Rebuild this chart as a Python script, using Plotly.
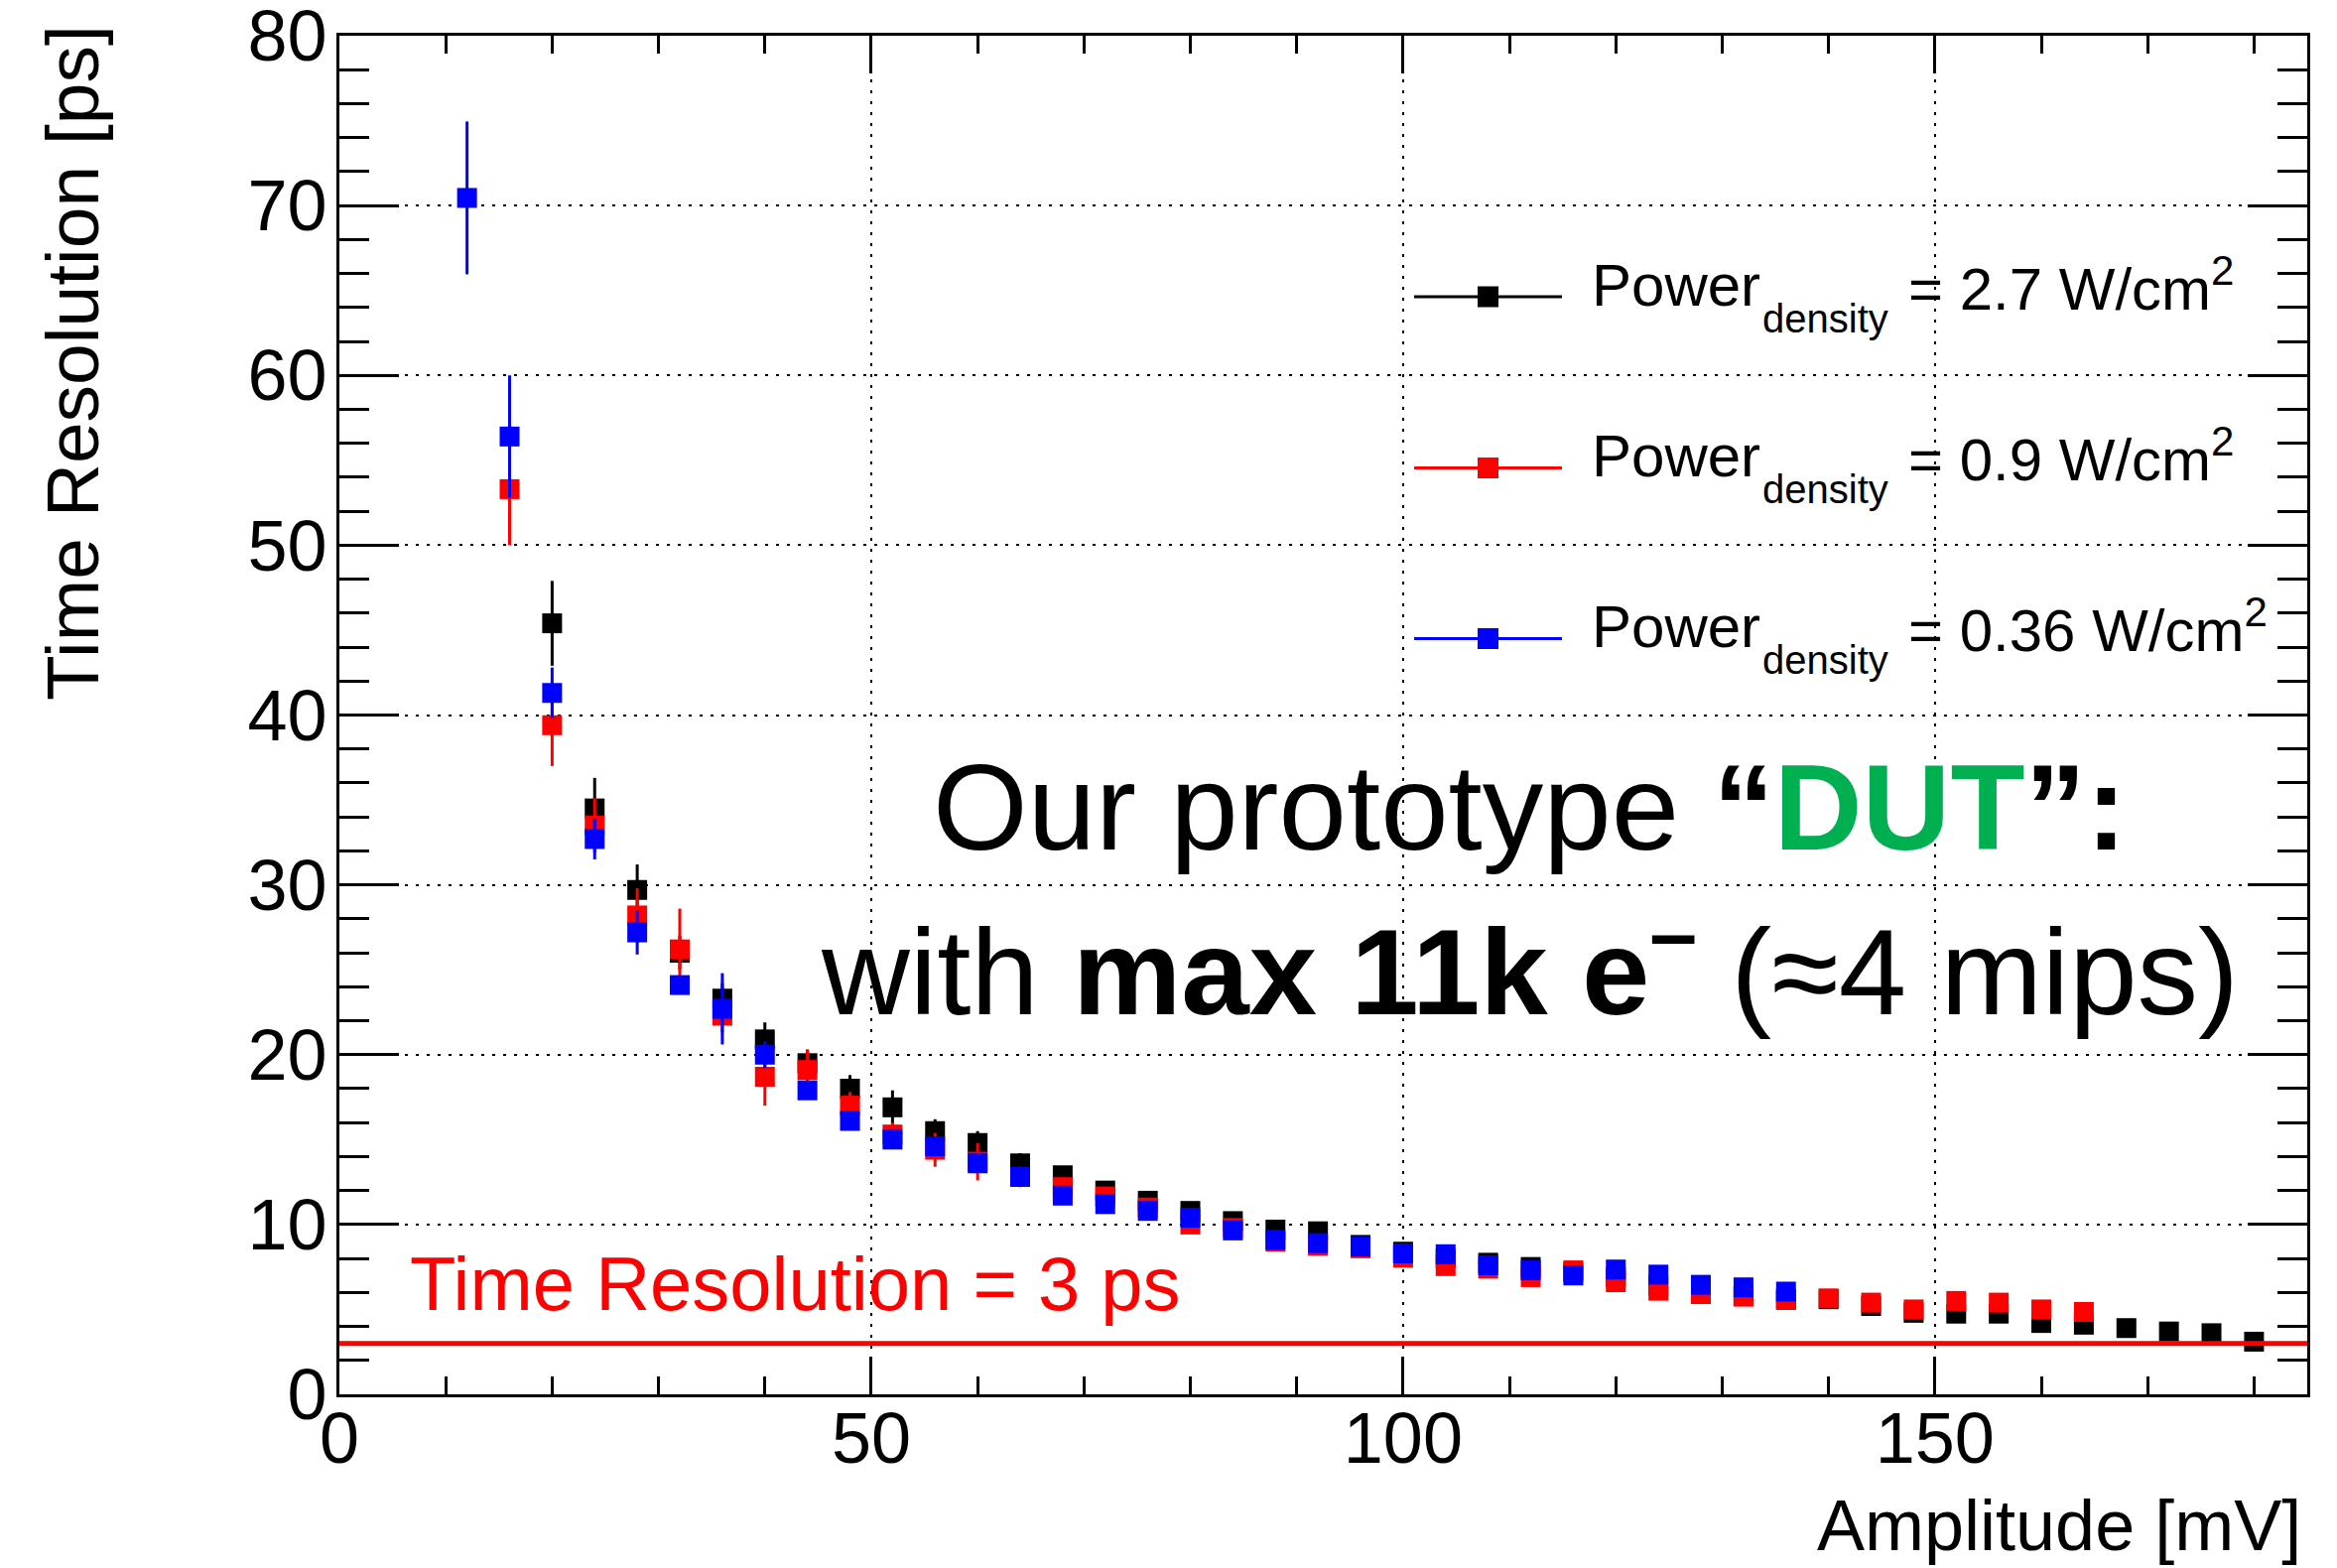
import plotly.graph_objects as go

# ---------------- data ----------------
amp_black = [20, 24, 28, 32, 36, 40, 44, 48, 52, 56, 60, 64, 68, 72, 76, 80, 84, 88, 92, 96,
             100, 104, 108, 112, 116, 120, 124, 128, 132, 136, 140, 144, 148, 152, 156, 160,
             164, 168, 172, 176, 180]
res_black = [45.4, 34.5, 29.7, 26.0, 23.3, 20.9, 19.5, 18.0, 16.9, 15.5, 14.8, 13.6, 12.9, 12.0,
             11.4, 10.8, 10.2, 9.7, 9.6, 8.8, 8.4, 8.0, 7.75, 7.5, 7.2, 6.9, 6.4, 6.0, 5.8, 5.6,
             5.6, 5.2, 4.8, 4.75, 4.75, 4.2, 4.1, 3.9, 3.7, 3.6, 3.1]
err_black = [2.5, 1.8, 1.5, 1.0, 0.9, 1.0, 0.8, 0.8, 1.0, 0.7, 0.7, 0.6, 0.5, 0.5, 0.4, 0.4,
             0.4, 0.4, 0.4, 0.3, 0.3, 0.3, 0.3, 0.3, 0.3, 0.3, 0.3, 0.3, 0.3, 0.3, 0.3, 0.3,
             0.3, 0.3, 0.3, 0.3, 0.3, 0.3, 0.3, 0.3, 0.3]

amp_red = [16, 20, 24, 28, 32, 36, 40, 44, 48, 52, 56, 60, 64, 68, 72, 76, 80, 84, 88, 92, 96,
           100, 104, 108, 112, 116, 120, 124, 128, 132, 136, 140, 144, 148, 152, 156, 160, 164]
res_red = [53.3, 39.4, 33.5, 28.2, 26.2, 22.3, 18.7, 19.1, 17.0, 15.3, 14.4, 13.7, 12.8, 12.2,
           11.65, 11.0, 10.0, 9.8, 9.0, 8.75, 8.6, 8.05, 7.55, 7.4, 6.9, 7.3, 6.6, 6.1, 5.9,
           5.75, 5.55, 5.65, 5.4, 5.0, 5.5, 5.4, 5.0, 4.85]
err_red = [3.3, 2.4, 1.6, 1.6, 2.4, 1.0, 1.7, 1.2, 0.8, 0.7, 1.0, 1.1, 0.6, 0.5, 0.4, 0.4,
           0.4, 0.4, 0.4, 0.3, 0.3, 0.3, 0.3, 0.3, 0.3, 0.3, 0.3, 0.3, 0.3, 0.3, 0.3, 0.3,
           0.3, 0.3, 0.3, 0.3, 0.3, 0.3]

amp_blue = [12, 16, 20, 24, 28, 32, 36, 40, 44, 48, 52, 56, 60, 64, 68, 72, 76, 80, 84, 88, 92,
            96, 100, 104, 108, 112, 116, 120, 124, 128, 132, 136]
res_blue = [70.45, 56.4, 41.3, 32.7, 27.2, 24.1, 22.7, 20.0, 17.9, 16.1, 15.0, 14.6, 13.6, 12.8,
            11.7, 11.2, 10.8, 10.4, 9.65, 9.1, 8.9, 8.7, 8.3, 8.25, 7.6, 7.3, 7.0, 7.35, 7.05,
            6.45, 6.3, 6.05]
err_blue = [4.5, 3.6, 1.5, 1.2, 1.3, 0.5, 2.1, 0.8, 0.5, 0.5, 0.5, 0.5, 0.5, 0.5, 0.4, 0.4,
            0.4, 0.4, 0.4, 0.3, 0.3, 0.3, 0.3, 0.3, 0.3, 0.3, 0.3, 0.3, 0.3, 0.3, 0.3, 0.3]

series_names = ["2.7", "0.9", "0.36"]
series_colors = ["#000000", "#FF0000", "#0000FF"]
threshold_ps = 3
x_range = [0, 185]
y_range = [0, 80]
x_tickvals = [0, 50, 100, 150]
y_tickvals = [0, 10, 20, 30, 40, 50, 60, 70, 80]

FONT = "Liberation Sans, Arial, Helvetica, sans-serif"

# plot-area pixel frame (for placing text / legend decorations)
L, R, T, B = 342, 2325, 36, 1405
def px(xp):
    return (xp - L) / (R - L)
def py(yp):
    return (B - yp) / (B - T)

fig = go.Figure()

for xs, ys, es, col in [(amp_black, res_black, err_black, series_colors[0]),
                        (amp_red, res_red, err_red, series_colors[1]),
                        (amp_blue, res_blue, err_blue, series_colors[2])]:
    fig.add_trace(go.Scatter(
        x=xs, y=ys, mode="markers",
        marker=dict(symbol="square", size=20, color=col, line=dict(width=0)),
        error_y=dict(type="data", array=es, visible=True, thickness=3, width=0, color=col),
        showlegend=False, hoverinfo="x+y"))

fig.add_trace(go.Scatter(x=x_range, y=[threshold_ps, threshold_ps], mode="lines",
                         line=dict(color="#FF0000", width=5), showlegend=False))

axis_common = dict(
    showline=True, linewidth=3, linecolor="black", mirror="ticks",
    ticks="inside", tickwidth=2.5, tickcolor="black",
    showgrid=True, gridcolor="black", gridwidth=2.2, griddash="3px,8px",
    zeroline=False, tickfont=dict(family=FONT, size=72, color="black"),
    tickmode="array", ticklabeloverflow="allow", automargin=False,
)

fig.update_xaxes(range=x_range, tickvals=x_tickvals, ticklen=38, ticklabelstandoff=-20,
                 minor=dict(tickmode="linear", tick0=0, dtick=10, ticklen=18, tickwidth=2.5,
                            tickcolor="black", ticks="inside", showgrid=False),
                 **axis_common)
fig.update_yaxes(range=y_range, tickvals=y_tickvals, ticklen=60, ticklabelstandoff=-5,
                 minor=dict(tickmode="linear", tick0=0, dtick=2, ticklen=30, tickwidth=2.5,
                            tickcolor="black", ticks="inside", showgrid=False),
                 **axis_common)

ann = []
shapes = []

def text(xp, yc, s, size, color="black", xanchor="left", angle=0):
    ann.append(dict(x=px(xp), y=py(yc), xref="paper", yref="paper", text=s,
                    showarrow=False, xanchor=xanchor, yanchor="middle", textangle=angle,
                    borderpad=0, font=dict(family=FONT, size=size, color=color)))

# axis titles
text(2320, 1537, "Amplitude [mV]", 72, xanchor="right")
text(73, 366, "Time Resolution [ps]", 75, xanchor="center", angle=-90)

# threshold label
text(412, 1320 - 0.3465 * 76, "Time Resolution = 3 ps", 76, color="#FF0000")

# big overlay text
text(1541, 856 - 0.3465 * 123,
     'Our prototype <b>“<span style="color:#00B050">DUT</span>”:</b>', 123, xanchor="center")
text(1541, 1013 - 0.3465 * 123,
     'with <b>max 11k e<sup>–</sup></b> (≈4 mips)', 123, xanchor="center")

# manual legend
line_rows = [299, 471.5, 643.5]
base_rows = [308, 480, 652]
for name, col, ly, by in zip(series_names, series_colors, line_rows, base_rows):
    shapes.append(dict(type="line", xref="paper", yref="paper",
                       x0=px(1425), x1=px(1574), y0=py(ly), y1=py(ly),
                       line=dict(color=col, width=3)))
    shapes.append(dict(type="rect", xref="paper", yref="paper",
                       x0=px(1489), x1=px(1510), y0=py(ly + 10.5), y1=py(ly - 10.5),
                       line=dict(width=0), fillcolor=col))
    text(1603, by - 0.3465 * 60, "Power", 60)
    text(1775, by + 27 - 0.3465 * 40, "density", 40)
    text(1922, by - 0.3465 * 60, "= " + name + " W/cm<sup>2</sup>", 60)

fig.update_layout(
    width=2355, height=1580,
    margin=dict(l=L, r=2355 - R, t=T, b=1580 - B, autoexpand=False),
    paper_bgcolor="white", plot_bgcolor="white",
    showlegend=False,
    annotations=ann, shapes=shapes,
    font=dict(family=FONT, color="black"),
)

fig.write_html("out.html")
